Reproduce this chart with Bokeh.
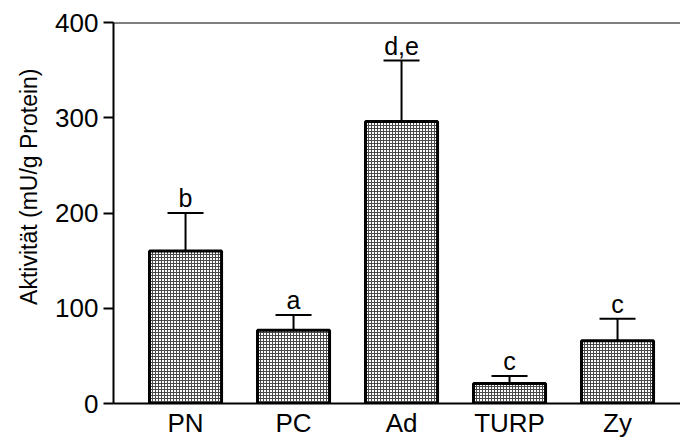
from bokeh.plotting import figure
from bokeh.models import Range1d, FixedTicker, Span, Title
from bokeh.core.properties import value
from bokeh.embed import file_html
from bokeh.resources import INLINE

categories = ["PN", "PC", "Ad", "TURP", "Zy"]
means = [160, 77, 296, 21, 66]
errors = [40, 16, 64, 8, 23]
letters = ["b", "a", "d,e", "c", "c"]
y_ticks = [0, 100, 200, 300, 400]
y_title = "Aktivität (mU/g Protein)"

FONT = "Liberation Sans"

xs = list(range(len(categories)))
tops = [m + e for m, e in zip(means, errors)]
cap_half = 0.1667
bar_w = 0.667

p = figure(width=680, height=440, output_backend="svg", toolbar_location=None,
           x_range=Range1d(-0.667, 4.583), y_range=Range1d(0, 400),
           min_border_left=113, min_border_right=0, min_border_top=22,
           min_border_bottom=37)
p.outline_line_color = None
p.xgrid.visible = False
p.ygrid.visible = False
p.background_fill_color = "white"

p.vbar(x=xs, top=means, bottom=0, width=bar_w,
       fill_color="white", line_color="black", line_width=3,
       hatch_pattern="+", hatch_scale=3, hatch_weight=1,
       hatch_color="#4a4a4a")

# error bars (upper only)
p.segment(x0=xs, y0=means, x1=xs, y1=tops, line_color="black", line_width=2)
p.segment(x0=[x - cap_half for x in xs], y0=tops,
          x1=[x + cap_half for x in xs], y1=tops,
          line_color="black", line_width=2)

p.text(x=xs, y=tops, text=letters, text_align="center",
       text_baseline="bottom", y_offset=-1, text_font=value(FONT),
       text_font_size="25px", text_color="black")

top_line = Span(location=400, dimension="width", line_color="black", line_width=2)
p.add_layout(top_line)

# y axis
p.yaxis.ticker = FixedTicker(ticks=y_ticks)
p.yaxis.axis_line_width = 2
p.yaxis.major_tick_line_width = 2
p.yaxis.major_tick_out = 10
p.yaxis.major_tick_in = 0
p.yaxis.minor_tick_out = 0
p.yaxis.minor_tick_in = 0
p.yaxis.major_label_text_font = FONT
p.yaxis.major_label_text_font_size = "26px"
p.yaxis.major_label_text_color = "black"
p.yaxis.major_label_standoff = 5

# y axis title placed as a side title (its top end near y=68 as in the original)
ytitle = Title(text=y_title, align="right", offset=46, standoff=21,
               text_font=FONT, text_font_size="23px",
               text_font_style="normal", text_color="black")
p.add_layout(ytitle, "left")

# x axis
p.xaxis.ticker = FixedTicker(ticks=xs)
p.xaxis.major_label_overrides = {i: c for i, c in zip(xs, categories)}
p.xaxis.axis_line_width = 2
p.xaxis.major_tick_out = 0
p.xaxis.major_tick_in = 0
p.xaxis.minor_tick_out = 0
p.xaxis.minor_tick_in = 0
p.xaxis.major_label_text_font = FONT
p.xaxis.major_label_text_font_size = "26px"
p.xaxis.major_label_text_color = "black"
p.xaxis.major_label_standoff = 4

open("out.html", "w").write(file_html(p, INLINE))
